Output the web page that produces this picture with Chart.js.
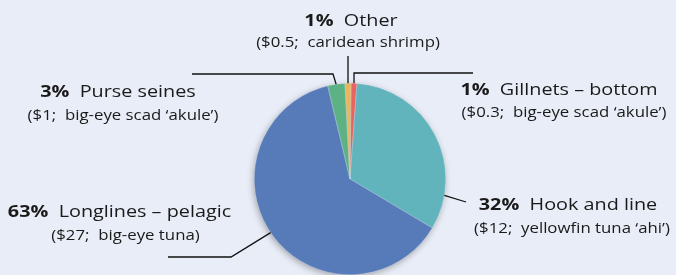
<!DOCTYPE html>
<html><head><meta charset="utf-8">
<script src="https://cdn.jsdelivr.net/npm/chart.js@4/dist/chart.umd.min.js"></script>
<style>html,body{margin:0;padding:0;background:#e9edf7;overflow:hidden}canvas{display:block}</style>
</head><body>
<canvas id="c" width="676" height="275"></canvas>
<script>
const categories = ['Gillnets – bottom', 'Hook and line', 'Longlines – pelagic', 'Purse seines', 'Other'];
const shares = [1.0, 32.4, 62.7, 2.9, 1.0];
const pctLabels = ['1%', '32%', '63%', '3%', '1%'];
const valueLabels = ['$0.3', '$12', '$27', '$1', '$0.5'];
const species = ['big-eye scad ‘akule’', 'yellowfin tuna ‘ahi’', 'big-eye tuna', 'big-eye scad ‘akule’', 'caridean shrimp'];
const colors = ['#e9645e', '#62b4bc', '#577bb8', '#5db285', '#e8b65f'];

// layout of the annotation labels (positions only)
const labelLayout = [
  {t: 0.5, pts: [[null, 73], [473, 73]], x1: 559, y1: 95, x2: 564, y2: 117},
  {t: 0.82, pts: [[466, 202]], x1: 568, y1: 210, x2: 572, y2: 233},
  {t: 0.51, pts: [[231, 257], [168, 257]], x1: 119.5, y1: 217, x2: 125.5, y2: 240},
  {t: 0.49, pts: [[333, 74], [192, 74]], x1: 118, y1: 97, x2: 123, y2: 120},
  {t: 0.5, pts: [[null, 56]], x1: 351, y1: 26, x2: 348, y2: 47}
];

const FONT = '"Open Sans", Lato, sans-serif';
const SX = 1.2; // horizontal stretch of the label type

const shadowPlugin = {
  id: 'shadow',
  beforeDatasetsDraw(chart) {
    const arc = chart.getDatasetMeta(0).data[0];
    if (!arc) return;
    const ctx = chart.ctx;
    ctx.save();
    ctx.shadowColor = 'rgba(0,0,0,0.35)';
    ctx.shadowBlur = 7;
    ctx.shadowOffsetX = -1;
    ctx.shadowOffsetY = 2;
    ctx.fillStyle = colors[2];
    ctx.beginPath();
    ctx.arc(arc.x, arc.y, arc.outerRadius - 0.5, 0, Math.PI * 2);
    ctx.fill();
    ctx.restore();
  }
};

const labelPlugin = {
  id: 'labels',
  afterDatasetsDraw(chart) {
    const ctx = chart.ctx;
    const meta = chart.getDatasetMeta(0);
    meta.data.forEach((arc, i) => {
      const L = labelLayout[i];
      const a = arc.startAngle + (arc.endAngle - arc.startAngle) * L.t;
      const px = arc.x + Math.cos(a) * arc.outerRadius;
      const py = arc.y + Math.sin(a) * arc.outerRadius;
      ctx.save();
      ctx.strokeStyle = '#111';
      ctx.lineWidth = 1.3;
      ctx.beginPath();
      ctx.moveTo(px, py);
      L.pts.forEach(p => ctx.lineTo(p[0] === null ? px : p[0], p[1]));
      ctx.stroke();
      ctx.restore();
      // line 1
      ctx.save();
      ctx.fillStyle = '#1a1a1a';
      ctx.textBaseline = 'alphabetic';
      ctx.textAlign = 'left';
      const boldF = 'bold 16.5px ' + FONT;
      const regF = '16.5px ' + FONT;
      ctx.font = boldF;
      const wB = ctx.measureText(pctLabels[i]).width;
      ctx.font = regF;
      const rest = '  ' + categories[i];
      const wR = ctx.measureText(rest).width;
      ctx.translate(L.x1, L.y1);
      ctx.scale(SX, 1);
      const x = -(wB + wR) / 2;
      ctx.font = boldF;
      ctx.fillText(pctLabels[i], x, 0);
      ctx.font = regF;
      ctx.fillText(rest, x + wB, 0);
      ctx.restore();
      // line 2
      ctx.save();
      ctx.fillStyle = '#1a1a1a';
      ctx.font = '14px ' + FONT;
      ctx.textAlign = 'center';
      ctx.translate(L.x2, L.y2);
      ctx.scale(SX, 1);
      ctx.fillText('(' + valueLabels[i] + ';  ' + species[i] + ')', 0, 0);
      ctx.restore();
    });
  }
};

new Chart(document.getElementById('c'), {
  type: 'pie',
  data: {
    labels: categories,
    datasets: [{
      data: shares,
      backgroundColor: colors,
      borderColor: 'rgba(233,237,247,0.6)',
      borderWidth: 0.5
    }]
  },
  options: {
    responsive: false,
    devicePixelRatio: 1,
    animation: false,
    rotation: 0.6,
    layout: {padding: {top: 83, left: 24, right: 0, bottom: 0}},
    plugins: {legend: {display: false}, tooltip: {enabled: false}}
  },
  plugins: [shadowPlugin, labelPlugin]
});
</script>
</body></html>
